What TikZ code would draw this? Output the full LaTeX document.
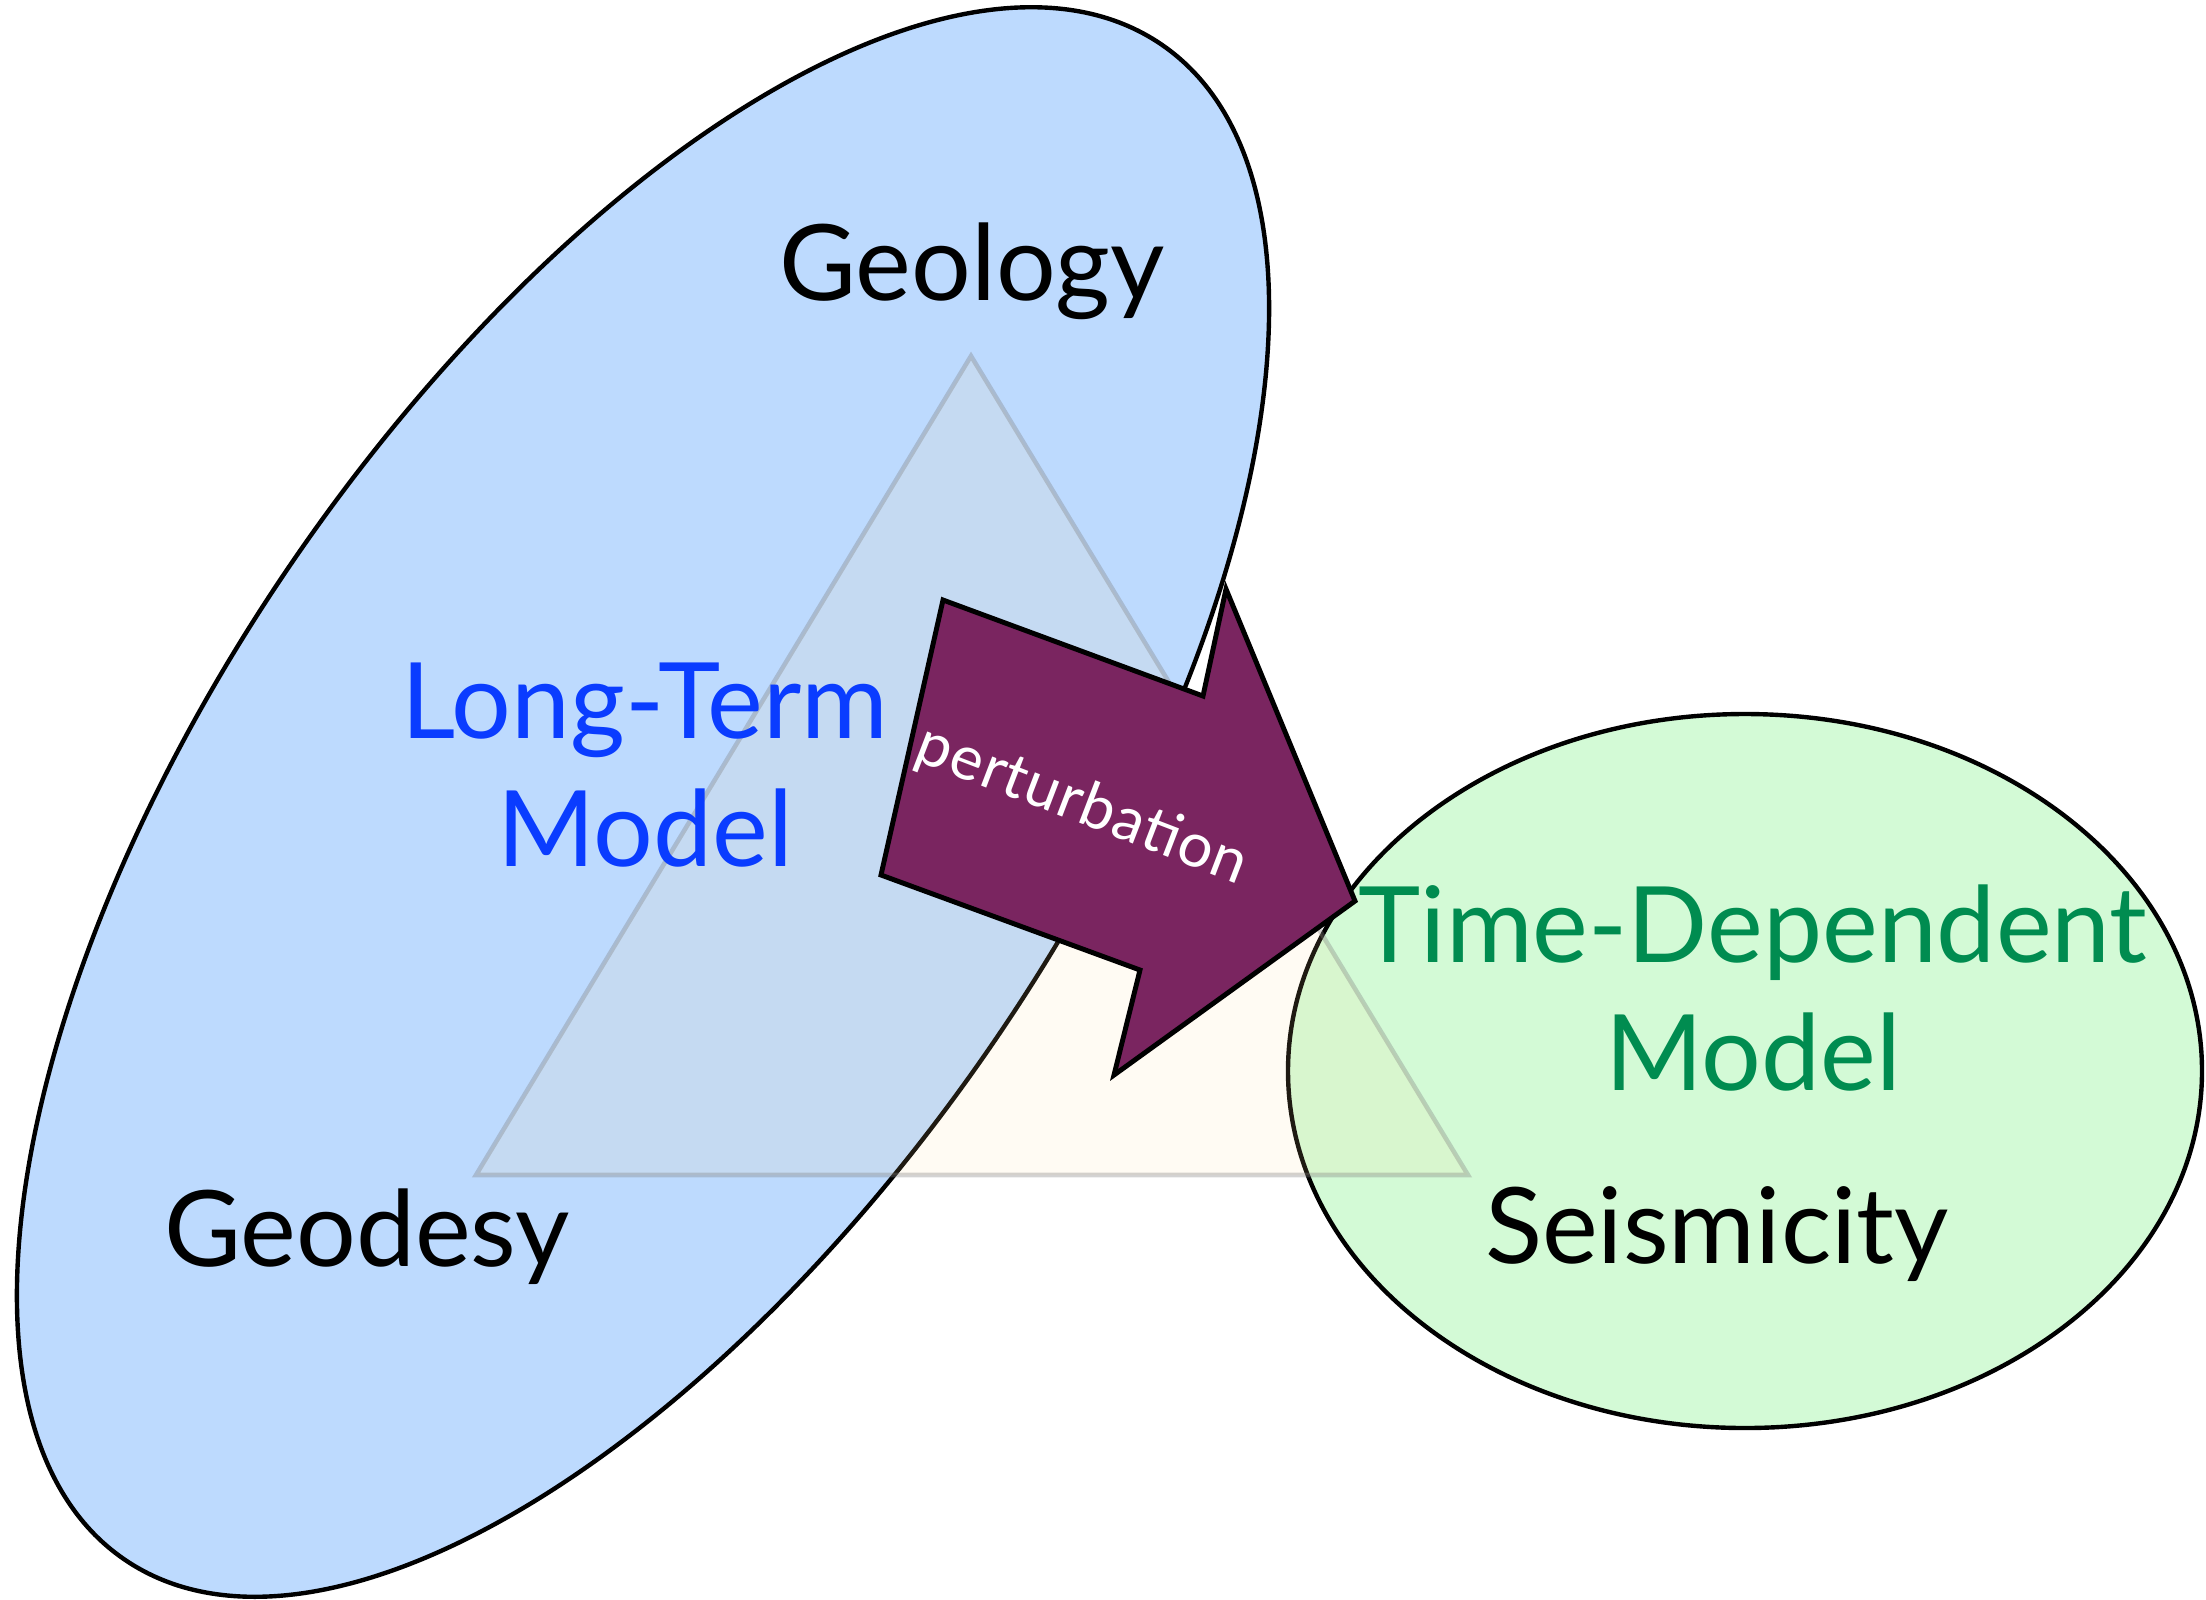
\documentclass[tikz,border=0pt]{standalone}
\usepackage{fontspec}
\setmainfont{Lato}
\definecolor{SkyFill}{HTML}{BDDAFE}
\definecolor{MintFill}{HTML}{D3FAD6}
\definecolor{Plum}{HTML}{7A2560}
\definecolor{LongBlue}{HTML}{0A3CFF}
\definecolor{TimeGreen}{HTML}{008C50}
\definecolor{Sand}{HTML}{FFDE9C}
\begin{document}
\begin{tikzpicture}[x=0.01cm,y=-0.01cm,
  fieldtext/.style={anchor=base,inner sep=0pt,font=\fontsize{30}{36}\selectfont},
  modeltext/.style={align=center,inner sep=0pt,font=\fontsize{30}{36.5}\selectfont}]
\useasboundingbox (0,0) rectangle (2206,1599);
\draw[fill=SkyFill,line width=1.25pt,rotate around={55.6:(643,802)}] (643,802) ellipse [x radius=918,y radius=425];
\draw[fill=MintFill,line width=1.25pt] (1745,1071) ellipse [x radius=457,y radius=357];
\draw[draw=gray,draw opacity=.35,fill=Sand,fill opacity=.12,line width=1.3pt] (971,356) -- (476,1175) -- (1468,1175) -- cycle;
\draw[fill=Plum,line width=1.4pt,line join=miter] (943,600) -- (1203,696) -- (1226,589) -- (1355,901) -- (1114,1075) -- (1140,970) -- (881,875) -- cycle;
\node[inner sep=0pt,text=white,rotate=-21,font=\fontsize{17.5}{20}\selectfont\addfontfeature{LetterSpace=1.5}] (perturb) at (1082,806) {perturbation};
\node[fieldtext] (geology) at (972,300) {Geology};
\node[fieldtext] (geodesy) at (367,1266) {Geodesy};
\node[fieldtext] (seismicity) at (1717,1263) {Seismicity};
\node[modeltext,text=LongBlue] (longterm) at (645,765) {Long-Term\\Model};
\node[modeltext,text=TimeGreen] (timedep) at (1753,988) {Time-Dependent\\Model};
\end{tikzpicture}
\end{document}
